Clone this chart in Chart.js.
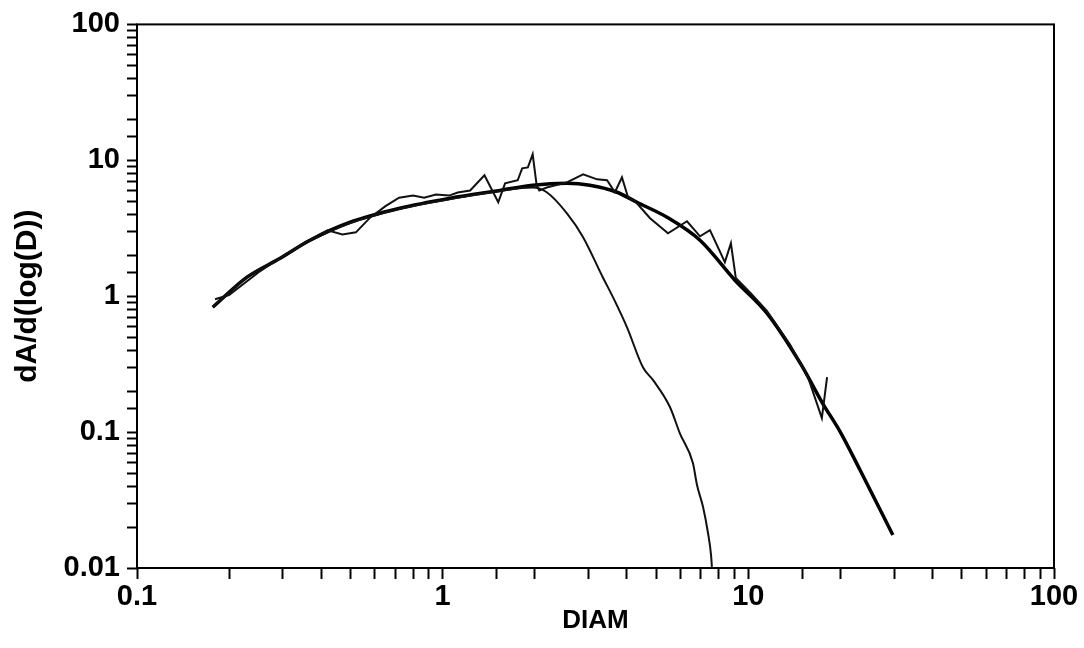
<!DOCTYPE html>
<html>
<head>
<meta charset="utf-8">
<script src="https://cdn.jsdelivr.net/npm/chart.js@4"></script>
<style>
  html, body { margin: 0; padding: 0; background: #fff; }
  canvas { display: block; }
</style>
</head>
<body>
<canvas id="sizeChart" width="1084" height="648"></canvas>
<script>
// measured size distribution (noisy trace)
const measuredDiam = [0.18, 0.2, 0.25, 0.3, 0.35, 0.42, 0.47, 0.52, 0.58, 0.65, 0.72, 0.8, 0.87, 0.95, 1.05, 1.12, 1.23, 1.37, 1.52, 1.60, 1.76, 1.82, 1.90, 1.97, 2.03, 2.07, 2.19, 2.55, 2.88, 3.20, 3.45, 3.66, 3.86, 4.04, 4.32, 4.77, 5.46, 6.30, 6.95, 7.49, 8.38, 8.77, 9.10, 10.2, 11.5, 13.7, 15.7, 17.4, 18.1];
const measuredArea = [0.95, 1.02, 1.5, 1.97, 2.45, 3.05, 2.85, 2.95, 3.8, 4.6, 5.3, 5.5, 5.3, 5.6, 5.5, 5.8, 6.0, 7.76, 4.91, 6.77, 7.13, 8.73, 8.87, 11.07, 6.55, 6.0, 6.3, 6.88, 7.88, 7.24, 7.13, 5.82, 7.49, 5.35, 4.83, 3.75, 2.90, 3.56, 2.76, 3.06, 1.78, 2.45, 1.36, 1.05, 0.78, 0.44, 0.25, 0.127, 0.254];

// total fitted curve
const fitDiam = [0.177, 0.229, 0.294, 0.368, 0.498, 0.724, 1.06, 1.54, 1.97, 2.55, 3.03, 3.72, 4.32, 5.42, 6.95, 9.04, 11.5, 14.8, 17.5, 20.0, 23.2, 29.7];
const fitArea = [0.83, 1.38, 1.9, 2.58, 3.5, 4.44, 5.26, 6.0, 6.55, 6.77, 6.55, 5.82, 4.91, 3.81, 2.58, 1.31, 0.75, 0.32, 0.163, 0.10, 0.0526, 0.0175];

// first (fine) mode of the fit
const modeDiam = [0.177, 0.229, 0.294, 0.368, 0.498, 0.724, 1.06, 1.54, 1.97, 2.19, 2.55, 2.88, 3.34, 3.61, 4.01, 4.52, 4.88, 5.54, 5.97, 6.59, 6.79, 7.11, 7.38, 7.55, 7.6];
const modeArea = [0.83, 1.38, 1.9, 2.55, 3.45, 4.4, 5.2, 5.95, 6.3, 5.82, 4.07, 2.72, 1.38, 0.98, 0.59, 0.30, 0.241, 0.153, 0.098, 0.059, 0.041, 0.0281, 0.0181, 0.0125, 0.0102];

const xTickLabels = ['0.1', '1', '10', '100'];
const yTickLabels = ['0.01', '0.1', '1', '10', '100'];

function toPoints(xs, ys) {
    return xs.map(function(x, i) { return {x: x, y: ys[i]}; });
}

// only label the decades, minor ticks keep their marks
function decadeLabel(labels) {
    return function(value) {
        const e = Math.log10(value);
        if (Math.abs(e - Math.round(e)) > 1e-6) return '';
        const hit = labels.find(function(l) { return Math.abs(parseFloat(l) - value) < value * 1e-6; });
        return hit === undefined ? '' : hit;
    };
}

// box round the plot area
const frame = {
    id: 'frame',
    afterDraw: function(chart) {
        const a = chart.chartArea;
        const ctx = chart.ctx;
        ctx.save();
        ctx.strokeStyle = '#000';
        ctx.lineWidth = 2;
        ctx.strokeRect(a.left, a.top, a.right - a.left, a.bottom - a.top);
        ctx.restore();
    }
};

const fontFamily = '"Liberation Sans", Arial, sans-serif';
const tickFont = {family: fontFamily, size: 29, weight: 'bold'};

new Chart(document.getElementById('sizeChart'), {
    type: 'scatter',
    data: {
        datasets: [{
            label: 'measured',
            data: toPoints(measuredDiam, measuredArea),
            showLine: true,
            borderColor: '#111',
            borderWidth: 2,
            pointRadius: 0,
            tension: 0
        }, {
            label: 'mode 1',
            data: toPoints(modeDiam, modeArea),
            showLine: true,
            borderColor: '#111',
            borderWidth: 2,
            pointRadius: 0,
            cubicInterpolationMode: 'monotone'
        }, {
            label: 'fit',
            data: toPoints(fitDiam, fitArea),
            showLine: true,
            borderColor: '#000',
            borderWidth: 3.5,
            pointRadius: 0,
            cubicInterpolationMode: 'monotone'
        }]
    },
    options: {
        responsive: false,
        animation: false,
        devicePixelRatio: 1,
        layout: {padding: {left: 0, top: 24, right: 30, bottom: 0}},
        plugins: {
            legend: {display: false},
            tooltip: {enabled: false}
        },
        scales: {
            x: {
                type: 'logarithmic',
                min: 0.1,
                max: 100,
                afterFit: function(scale) { scale.height = 80; },
                border: {display: false},
                grid: {drawOnChartArea: false, drawTicks: true, tickLength: 11, tickColor: '#000', tickWidth: 2},
                ticks: {
                    autoSkip: false,
                    maxRotation: 0,
                    padding: 1,
                    color: '#000',
                    font: tickFont,
                    callback: decadeLabel(xTickLabels)
                },
                title: {
                    display: true,
                    text: 'DIAM',
                    color: '#000',
                    font: {family: fontFamily, size: 26, weight: 'bold'},
                    padding: {top: 0, bottom: 12}
                }
            },
            y: {
                type: 'logarithmic',
                min: 0.01,
                max: 100,
                afterFit: function(scale) { scale.width = 137; },
                border: {display: false},
                grid: {drawOnChartArea: false, drawTicks: true, tickLength: 10, tickColor: '#000', tickWidth: 2},
                ticks: {
                    autoSkip: false,
                    padding: 7,
                    color: '#000',
                    font: tickFont,
                    callback: decadeLabel(yTickLabels)
                },
                title: {
                    display: true,
                    text: 'dA/d(log(D))',
                    color: '#000',
                    font: {family: fontFamily, size: 30, weight: 'bold'},
                    padding: {top: 10, bottom: 0}
                }
            }
        }
    },
    plugins: [frame]
});
</script>
</body>
</html>
